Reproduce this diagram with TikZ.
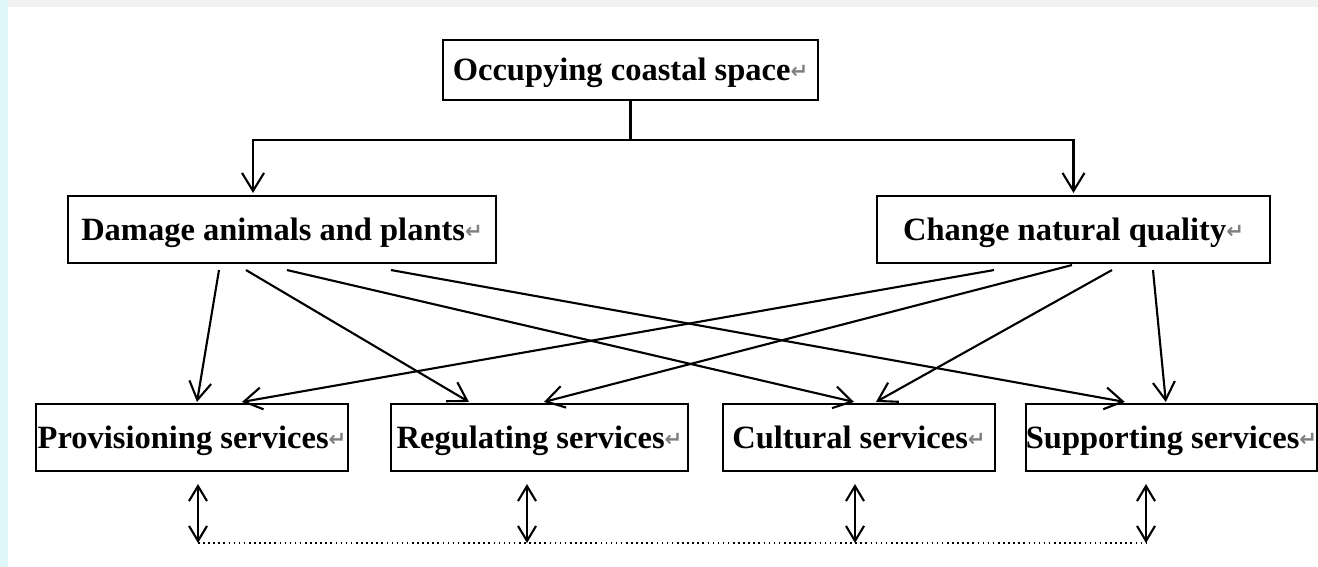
\documentclass[tikz,border=0pt]{standalone}
\usepackage{fontspec}
\setmainfont{Liberation Serif}
\newfontfamily\symfont{DejaVu Sans}
\usepackage{tikz}
\usetikzlibrary{arrows.meta,calc}
\definecolor{pagegray}{RGB}{240,241,240}
\definecolor{pagecyan}{RGB}{222,248,250}
\newcommand\ret{{\symfont\color{gray}\fontsize{12}{12}\selectfont\raisebox{1pt}{↵}}}

\begin{document}
\begin{tikzpicture}[x=0.02cm,y=-0.02cm,
  box/.style={draw,line width=1.2pt,inner sep=0pt,text height=15pt,text depth=3pt,
    font=\bfseries\fontsize{18.5}{20}\selectfont},
  arr/.style={line width=1.2pt,-{Straight Barb[length=0.36cm,width=0.44cm,line width=1.2pt]}},
  dbl/.style={line width=1.2pt,{Straight Barb[length=0.3cm,width=0.36cm,line width=1.2pt]}-{Straight Barb[length=0.3cm,width=0.36cm,line width=1.2pt]}}]
\useasboundingbox (0,0) rectangle (1318,567);
\fill[white] (0,0) rectangle (1318,567);
\fill[pagegray] (0,0) rectangle (1318,7);
\fill[pagecyan] (0,0) rectangle (8,567);
\node[box,minimum width=7.5cm,minimum height=1.2cm] (occ) at (630.5,70) {Occupying coastal space\ret};
\node[box,minimum width=8.56cm,minimum height=1.34cm] (dmg) at (282,229.5) {Damage animals and plants\ret};
\node[box,minimum width=7.86cm,minimum height=1.34cm] (chg) at (1073.5,229.5) {Change natural quality\ret};
\node[box,minimum width=6.24cm,minimum height=1.34cm] (prov) at (192,437.5) {Provisioning services\ret};
\node[box,minimum width=5.94cm,minimum height=1.34cm] (regu) at (539.5,437.5) {Regulating services\ret};
\node[box,minimum width=5.44cm,minimum height=1.34cm] (cult) at (859,437.5) {Cultural services\ret};
\node[box,minimum width=5.78cm,minimum height=1.34cm] (supp) at (1171.5,437.5) {Supporting services\ret};
\coordinate (fork) at (630.5,140);
\draw[line width=1.2pt] (occ.south) -- (fork);
\draw[arr] (fork) -| ($(dmg.north)+(-29,-2)$);
\draw[arr] (fork) -| ($(chg.north)+(0,-2)$);
\draw[arr] ($(dmg.south west)+(152,6)$) -- ($(prov.north west)+(162,-1)$);
\draw[arr] ($(dmg.south west)+(179,6)$) -- ($(regu.north west)+(79,-1)$);
\draw[arr] ($(dmg.south west)+(220,6)$) -- ($(cult.north west)+(132,-1)$);
\draw[arr] ($(dmg.south west)+(324,6)$) -- ($(supp.north west)+(100,-1)$);
\draw[arr] ($(chg.south west)+(118,6)$) -- ($(prov.north west)+(207,-1)$);
\draw[arr] ($(chg.south west)+(196,1)$) -- ($(regu.north west)+(154,-1)$);
\draw[arr] ($(chg.south west)+(236,6)$) -- ($(cult.north west)+(154,-1)$);
\draw[arr] ($(chg.south west)+(277,6)$) -- ($(supp.north west)+(141,-1)$);
\coordinate (b1) at (198,543);
\coordinate (b2) at (527,543);
\coordinate (b3) at (855,543);
\coordinate (b4) at (1146,543);
\foreach \n/\b in {prov/b1,regu/b2,cult/b3,supp/b4}
  \draw[dbl,shorten <=0.24cm] (\n.south -| \b) -- (\b);
\draw[dotted,line width=0.9pt] (b1) -- (b4);
\end{tikzpicture}
\end{document}
